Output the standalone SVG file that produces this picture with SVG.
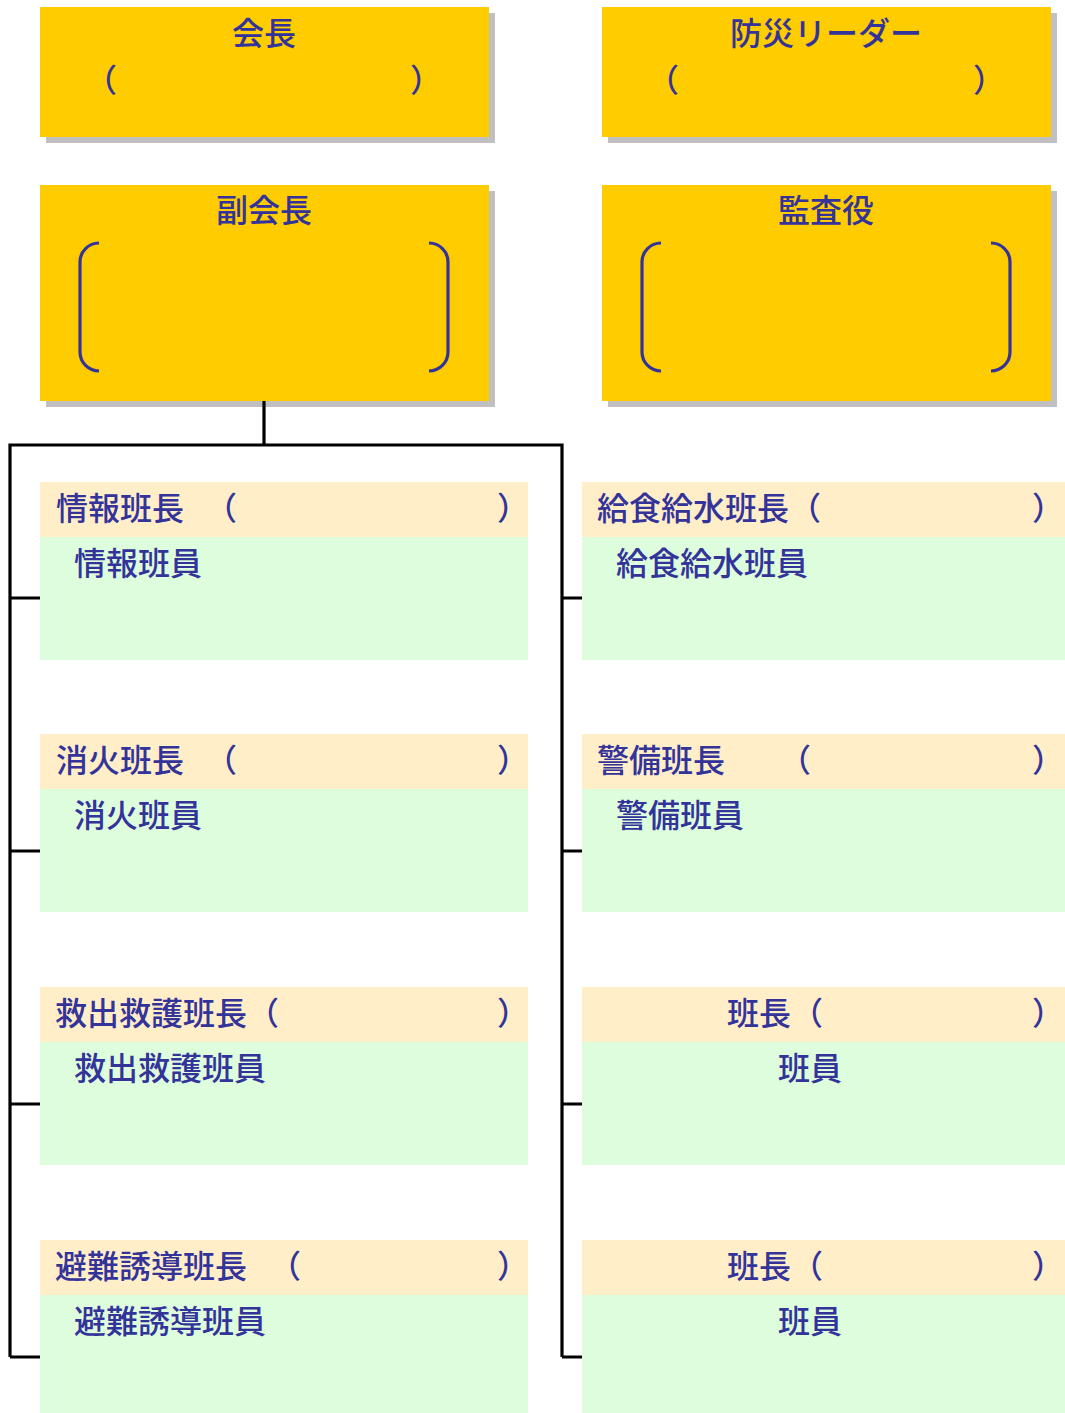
<svg xmlns="http://www.w3.org/2000/svg" width="1065" height="1413" viewBox="0 0 1065 1413">
<style>
text{font-family:"Noto Sans CJK JP","Noto Sans CJK SC",sans-serif;font-size:32px;font-weight:500;fill:#333399}
.c{text-anchor:middle}
.e{text-anchor:end}
.y{fill:#FFCC00}
.sh{fill:#C0C0C0}
.hd{fill:#FFEEC8}
.bd{fill:#DDFDDD}
.br{fill:none;stroke:#333399;stroke-width:3.2}
.ln{fill:none;stroke:#000;stroke-width:3.2}
</style>
<rect width="1065" height="1413" fill="#fff"/>
<g id="kaicho">
<rect class="sh" x="46" y="13" width="449" height="130"/>
<rect class="y" x="40" y="7" width="449" height="130"/>
<text class="c" x="264" y="45">会長</text>
<text x="85" y="92">（</text>
<text x="410" y="92">）</text>
</g>
<g id="bousai">
<rect class="sh" x="608" y="13" width="449" height="130"/>
<rect class="y" x="602" y="7" width="449" height="130"/>
<text class="c" x="826" y="45">防災リーダー</text>
<text x="647" y="92">（</text>
<text x="973" y="92">）</text>
</g>
<g id="fukukaicho">
<rect class="sh" x="46" y="191" width="449" height="216"/>
<rect class="y" x="40" y="185" width="449" height="216"/>
<text class="c" x="264" y="222">副会長</text>
<path class="br" d="M99,243 A19,19 0 0 0 80,262 V352 A19,19 0 0 0 99,371"/>
<path class="br" d="M429,243 A19,19 0 0 1 448,262 V352 A19,19 0 0 1 429,371"/>
</g>
<g id="kansa">
<rect class="sh" x="608" y="191" width="449" height="216"/>
<rect class="y" x="602" y="185" width="449" height="216"/>
<text class="c" x="826" y="222">監査役</text>
<path class="br" d="M661,243 A19,19 0 0 0 642,262 V352 A19,19 0 0 0 661,371"/>
<path class="br" d="M991,243 A19,19 0 0 1 1010,262 V352 A19,19 0 0 1 991,371"/>
</g>
<g id="connectors">
<path class="ln" d="M264,401 V445"/>
<path class="ln" d="M10,1357 V445 H562 V1357"/>
<path class="ln" d="M10,598 H40 M10,851 H40 M10,1104 H40 M10,1357 H40"/>
<path class="ln" d="M562,598 H582 M562,851 H582 M562,1104 H582 M562,1357 H582"/>
</g>
<g id="joho">
<rect class="bd" x="40" y="537" width="488" height="123"/>
<rect class="hd" x="40" y="482" width="488" height="55"/>
<text x="56" y="520">情報班長</text>
<text x="205" y="520">（</text>
<text x="497" y="520">）</text>
<text x="74" y="575">情報班員</text>
</g>
<g id="shoka">
<rect class="bd" x="40" y="789" width="488" height="123"/>
<rect class="hd" x="40" y="734" width="488" height="55"/>
<text x="56" y="772">消火班長</text>
<text x="205" y="772">（</text>
<text x="497" y="772">）</text>
<text x="74" y="827">消火班員</text>
</g>
<g id="kyushutsu">
<rect class="bd" x="40" y="1042" width="488" height="123"/>
<rect class="hd" x="40" y="987" width="488" height="55"/>
<text x="55" y="1025">救出救護班長（</text>
<text x="497" y="1025">）</text>
<text x="74" y="1080">救出救護班員</text>
</g>
<g id="hinan">
<rect class="bd" x="40" y="1295" width="488" height="118"/>
<rect class="hd" x="40" y="1240" width="488" height="55"/>
<text x="55" y="1278">避難誘導班長</text>
<text x="269" y="1278">（</text>
<text x="497" y="1278">）</text>
<text x="74" y="1333">避難誘導班員</text>
</g>
<g id="kyushoku">
<rect class="bd" x="582" y="537" width="483" height="123"/>
<rect class="hd" x="582" y="482" width="483" height="55"/>
<text x="597" y="520">給食給水班長（</text>
<text class="e" x="1064" y="520">）</text>
<text x="616" y="575">給食給水班員</text>
</g>
<g id="keibi">
<rect class="bd" x="582" y="789" width="483" height="123"/>
<rect class="hd" x="582" y="734" width="483" height="55"/>
<text x="597" y="772">警備班長</text>
<text x="779" y="772">（</text>
<text class="e" x="1064" y="772">）</text>
<text x="616" y="827">警備班員</text>
</g>
<g id="han1">
<rect class="bd" x="582" y="1042" width="483" height="123"/>
<rect class="hd" x="582" y="987" width="483" height="55"/>
<text x="727" y="1025">班長（</text>
<text class="e" x="1064" y="1025">）</text>
<text x="778" y="1080">班員</text>
</g>
<g id="han2">
<rect class="bd" x="582" y="1295" width="483" height="118"/>
<rect class="hd" x="582" y="1240" width="483" height="55"/>
<text x="727" y="1278">班長（</text>
<text class="e" x="1064" y="1278">）</text>
<text x="778" y="1333">班員</text>
</g>
</svg>
